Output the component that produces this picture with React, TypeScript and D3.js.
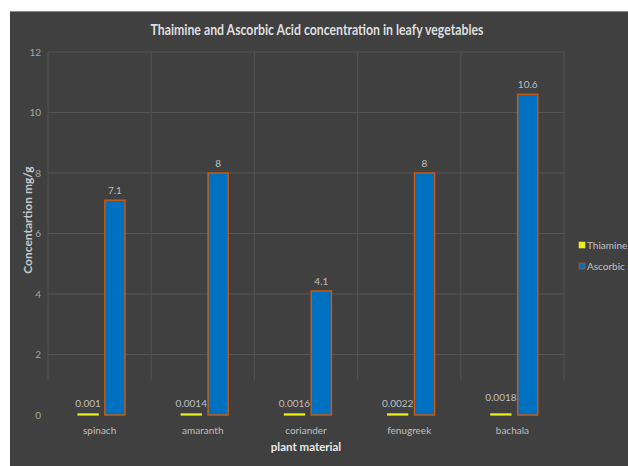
import React from "react";
import * as d3 from "d3";

const categories = ["spinach", "amaranth", "coriander", "fenugreek", "bachala"];
const thiamine = [0.001, 0.0014, 0.0016, 0.0022, 0.0018];
const ascorbic = [7.1, 8, 4.1, 8, 10.6];
const thiamineLabels = ["0.001", "0.0014", "0.0016", "0.0022", "0.0018"];
const ascorbicLabels = ["7.1", "8", "4.1", "8", "10.6"];
const yTicks = [0, 2, 4, 6, 8, 10, 12];
const seriesNames = ["Thiamine", "Ascorbic acid"];

const W = 628;
const H = 466;
const FONT = "Lato, 'Open Sans', sans-serif";

export default function App() {
  const y = d3.scaleLinear().domain([0, 12]).range([415, 52]);
  const x = d3.scaleBand().domain(categories).range([48, 564]).padding(0);
  const inner = d3
    .scaleBand()
    .domain(["t", "a"])
    .range([30, 77])
    .paddingInner(0.25)
    .paddingOuter(0);
  const colors = { t: "#e8f020", a: "#0070c0" };
  const labelLift = [0, 0, 0, 0, 6];

  return (
    <svg
      width={W}
      height={H}
      style={{ position: "absolute", left: 0, top: 0, background: "#fff" }}
    >
      <rect x={10} y={11} width={W - 10} height={H - 11} fill="#404040" />
      <line x1={10} x2={W} y1={11.5} y2={11.5} stroke="#8a8a8a" strokeWidth={1} />
      <text
        x={317}
        y={35}
        textAnchor="middle"
        fontFamily={FONT}
        fontWeight="bold"
        fontSize={16}
        fill="#dedede"
        textLength={333}
        lengthAdjust="spacingAndGlyphs"
      >
        Thaimine and Ascorbic Acid concentration in leafy vegetables
      </text>

      {/* gridlines */}
      {yTicks
        .filter((t) => t > 0)
        .map((t) => (
          <line
            key={"h" + t}
            x1={48}
            x2={564}
            y1={y(t)}
            y2={y(t)}
            stroke="#555555"
            strokeWidth={1}
          />
        ))}
      {categories.concat(["__end"]).map((c, i) => {
        const xx = i < categories.length ? (x(c) as number) : 564;
        return (
          <line
            key={"v" + i}
            x1={xx}
            x2={xx}
            y1={y(12)}
            y2={y(1.15)}
            stroke="#535353"
            strokeWidth={1}
          />
        );
      })}

      {/* y tick labels */}
      {yTicks.map((t) => (
        <text
          key={"yt" + t}
          x={41}
          y={y(t) + 3.5}
          textAnchor="end"
          fontFamily={FONT}
          fontSize={10}
          fill="#a6a6a6"
        >
          {t}
        </text>
      ))}

      {/* bars */}
      {categories.map((c, i) => {
        const x0 = x(c) as number;
        const tx = x0 + (inner("t") as number);
        const ax = x0 + (inner("a") as number);
        const bw = inner.bandwidth();
        return (
          <g key={c}>
            <rect
              x={tx}
              y={y(thiamine[i]) - 1}
              width={bw}
              height={y(0) - y(thiamine[i]) + 1}
              fill={colors.t}
              stroke={colors.t}
              strokeWidth={1.2}
            />
            <rect
              x={ax}
              y={y(ascorbic[i])}
              width={bw}
              height={y(0) - y(ascorbic[i])}
              fill={colors.a}
              stroke="#c55a11"
              strokeWidth={1.5}
            />
            <text
              x={tx + bw / 2}
              y={y(thiamine[i]) - 8 - labelLift[i]}
              textAnchor="middle"
              fontFamily={FONT}
              fontSize={10}
              fill="#bfbfbf"
            >
              {thiamineLabels[i]}
            </text>
            <text
              x={ax + bw / 2}
              y={y(ascorbic[i]) - 6}
              textAnchor="middle"
              fontFamily={FONT}
              fontSize={10}
              fill="#bfbfbf"
            >
              {ascorbicLabels[i]}
            </text>
            <text
              x={x0 + x.bandwidth() / 2}
              y={434}
              textAnchor="middle"
              fontFamily={FONT}
              fontSize={10}
              fill="#bfbfbf"
            >
              {c}
            </text>
          </g>
        );
      })}

      {/* axis titles */}
      <text
        x={306}
        y={451}
        textAnchor="middle"
        fontFamily={FONT}
        fontWeight="bold"
        fontSize={11.5}
        fill="#e8e8e8"
      >
        plant material
      </text>
      <text
        transform="translate(32,220) rotate(-90)"
        textAnchor="middle"
        fontFamily={FONT}
        fontWeight="bold"
        fontSize={12}
        fill="#c8c8c8"
      >
        Concentartion mg/g
      </text>

      {/* legend */}
      {seriesNames.map((n, i) => (
        <g key={n} transform={`translate(579,${242 + i * 21})`}>
          <rect
            x={0}
            y={0}
            width={6}
            height={6}
            fill={i === 0 ? colors.t : colors.a}
            stroke={i === 0 ? colors.t : "#c55a11"}
            strokeWidth={0.6}
          />
          <text
            x={8}
            y={7}
            fontFamily={FONT}
            fontSize={10}
            fill="#c0c0c0"
          >
            {n}
          </text>
        </g>
      ))}
    </svg>
  );
}
